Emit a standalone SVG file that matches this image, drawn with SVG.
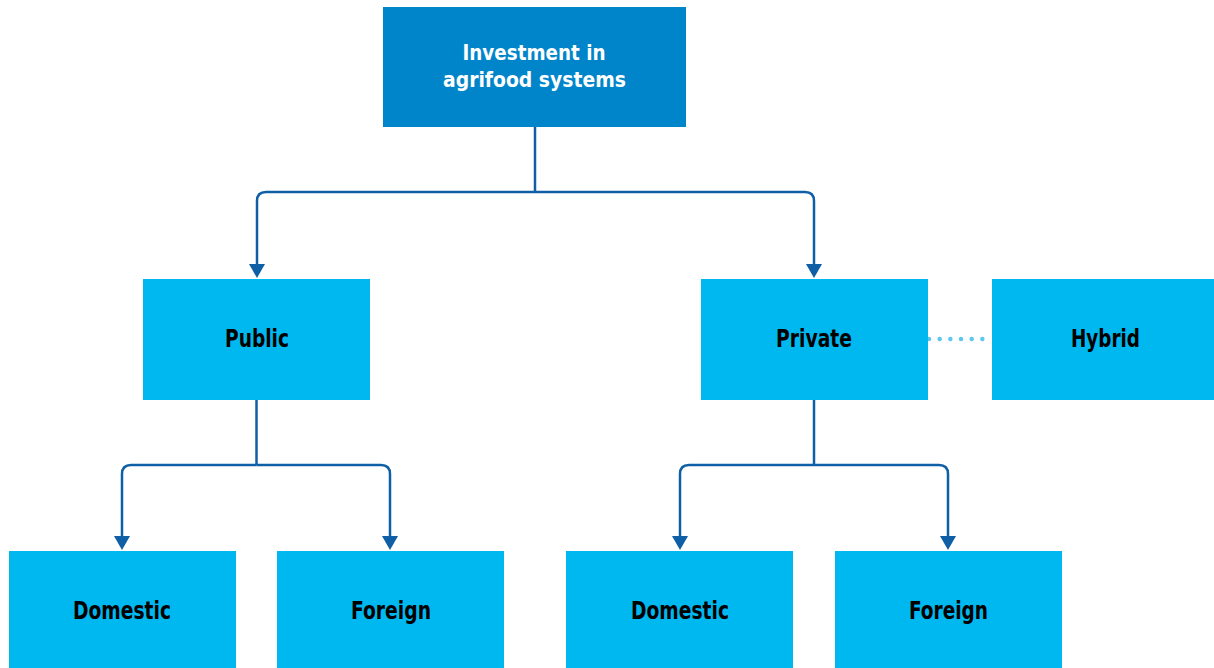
<svg xmlns="http://www.w3.org/2000/svg" width="1214" height="668" viewBox="0 0 1214 668">
<defs>
<style>
.box{fill:#00B8F0;}
.top{fill:#0085CA;}
.lbl{font-family:"DejaVu Sans Condensed","DejaVu Sans","Liberation Sans",sans-serif;font-weight:bold;font-size:25px;fill:#000;text-anchor:middle;}
.tlbl{fill:#fff;font-size:22px;}
.conn{fill:none;stroke:#0F5FA6;stroke-width:2.5;}
.dot{fill:none;stroke:#5CC8F0;stroke-width:4.5;stroke-linecap:round;stroke-dasharray:0 10.67;}
.ah{fill:#0F5FA6;}
</style>
</defs>
<g id="connectors">
<path class="conn" d="M535,127 V192"/>
<path class="conn" d="M535,192 H266 Q257,192 257,201 V264"/>
<path class="conn" d="M535,192 H805 Q814,192 814,201 V264"/>
<path class="conn" d="M256.5,400 V465"/>
<path class="conn" d="M256.5,465 H131 Q122,465 122,474 V536"/>
<path class="conn" d="M256.5,465 H381 Q390,465 390,474 V536"/>
<path class="conn" d="M814,400 V465"/>
<path class="conn" d="M814,465 H689 Q680,465 680,474 V536"/>
<path class="conn" d="M814,465 H939 Q948,465 948,474 V536"/>
<polygon class="ah" points="249,264 265,264 257,278"/>
<polygon class="ah" points="806,264 822,264 814,278"/>
<polygon class="ah" points="114,536 130,536 122,550"/>
<polygon class="ah" points="382,536 398,536 390,550"/>
<polygon class="ah" points="672,536 688,536 680,550"/>
<polygon class="ah" points="940,536 956,536 948,550"/>
<path class="dot" d="M929,339 H992"/>
</g>
<g id="n-root"><rect class="top" x="383" y="7" width="303" height="120"/><text class="lbl tlbl" x="534" y="60" textLength="143" lengthAdjust="spacingAndGlyphs">Investment in</text><text class="lbl tlbl" x="534.5" y="87" textLength="183" lengthAdjust="spacingAndGlyphs">agrifood systems</text></g>
<g id="n-public"><rect class="box" x="143" y="279" width="227" height="121"/><text class="lbl" x="257" y="347" textLength="64" lengthAdjust="spacingAndGlyphs">Public</text></g>
<g id="n-private"><rect class="box" x="701" y="279" width="227" height="121"/><text class="lbl" x="814" y="347" textLength="76" lengthAdjust="spacingAndGlyphs">Private</text></g>
<g id="n-hybrid"><rect class="box" x="992" y="279" width="222" height="121"/><text class="lbl" x="1105.5" y="347" textLength="69" lengthAdjust="spacingAndGlyphs">Hybrid</text></g>
<g id="n-pub-dom"><rect class="box" x="9" y="551" width="227" height="117"/><text class="lbl" x="122" y="619" textLength="98" lengthAdjust="spacingAndGlyphs">Domestic</text></g>
<g id="n-pub-for"><rect class="box" x="277" y="551" width="227" height="117"/><text class="lbl" x="391" y="619" textLength="80" lengthAdjust="spacingAndGlyphs">Foreign</text></g>
<g id="n-pri-dom"><rect class="box" x="566" y="551" width="227" height="117"/><text class="lbl" x="680" y="619" textLength="98" lengthAdjust="spacingAndGlyphs">Domestic</text></g>
<g id="n-pri-for"><rect class="box" x="835" y="551" width="227" height="117"/><text class="lbl" x="948.5" y="619" textLength="79" lengthAdjust="spacingAndGlyphs">Foreign</text></g>
</svg>
